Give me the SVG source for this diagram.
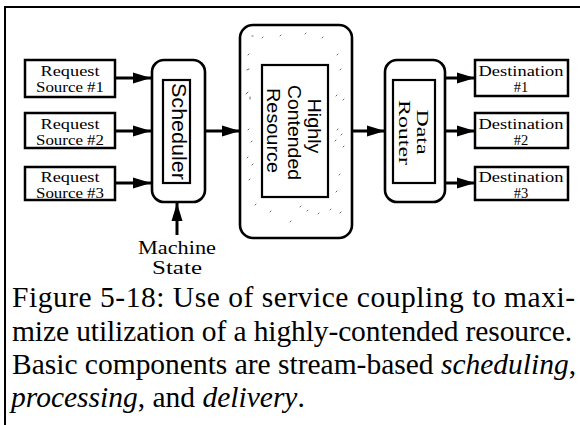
<svg xmlns="http://www.w3.org/2000/svg" width="580" height="425" viewBox="0 0 580 425">
<style>
.serif{font-family:"Liberation Serif","Times New Roman",serif;fill:#000}
.sans{font-family:"Liberation Sans",Arial,sans-serif;fill:#000}
.box{fill:#fff;stroke:#000;stroke-width:2.5}
.inner{fill:none;stroke:#000;stroke-width:2.2}
.round{fill:#fff;stroke:#000;stroke-width:2.6}
.lbl{font-size:14.5px;text-anchor:middle}
.cap{font-size:29.5px}
.conn{stroke:#000;stroke-width:3;fill:none;marker-end:url(#ah)}
.speck{stroke:#555;stroke-width:0.9;stroke-linecap:round}
</style>
<defs>
<marker id="ah" markerUnits="userSpaceOnUse" markerWidth="18" markerHeight="12" refX="18" refY="6" orient="auto">
<path d="M0,0.5 L18,6 L0,11.5 z" fill="#000"/>
</marker>
</defs>
<rect width="580" height="425" fill="#fff"/>
<g id="frame" stroke="#000" stroke-width="2">
<line x1="5" y1="7" x2="580" y2="7"/>
<line x1="5" y1="6" x2="5" y2="425"/>
</g>
<g id="src1"><rect class="box" x="25" y="60" width="90" height="37"/><text class="serif lbl" x="70" y="76" textLength="59" lengthAdjust="spacingAndGlyphs">Request</text><text class="serif lbl" x="70" y="92" textLength="68" lengthAdjust="spacingAndGlyphs">Source #1</text></g>
<g id="src2"><rect class="box" x="25" y="113" width="90" height="35"/><text class="serif lbl" x="70" y="129" textLength="59" lengthAdjust="spacingAndGlyphs">Request</text><text class="serif lbl" x="70" y="145" textLength="68" lengthAdjust="spacingAndGlyphs">Source #2</text></g>
<g id="src3"><rect class="box" x="25" y="167" width="90" height="33"/><text class="serif lbl" x="70" y="182" textLength="59" lengthAdjust="spacingAndGlyphs">Request</text><text class="serif lbl" x="70" y="198" textLength="68" lengthAdjust="spacingAndGlyphs">Source #3</text></g>
<g id="scheduler">
<rect class="round" x="152" y="60" width="53" height="142" rx="12"/>
<rect class="inner" x="163" y="80" width="27" height="103"/>
<text class="sans" font-size="21" text-anchor="middle" transform="translate(172,131.5) rotate(90)" textLength="97" lengthAdjust="spacingAndGlyphs">Scheduler</text>
</g>
<g id="resource">
<rect class="round" x="240" y="25" width="112" height="213" rx="13"/>
<g class="speck">
<line x1="252" y1="36" x2="253" y2="36"/><line x1="262" y1="38" x2="263" y2="37"/><line x1="280" y1="36" x2="281" y2="35"/><line x1="305" y1="34" x2="306" y2="33"/><line x1="322" y1="38" x2="323" y2="37"/>
<line x1="248" y1="55" x2="249" y2="54"/><line x1="247" y1="70" x2="249" y2="69"/><line x1="246" y1="94" x2="248" y2="92"/><line x1="250" y1="97" x2="250" y2="99"/>
<line x1="337" y1="55" x2="338" y2="54"/><line x1="340" y1="70" x2="341" y2="69"/><line x1="336" y1="96" x2="337" y2="95"/><line x1="343" y1="100" x2="344" y2="99"/>
<line x1="337" y1="130" x2="338" y2="129"/><line x1="341" y1="135" x2="342" y2="134"/><line x1="335" y1="141" x2="336" y2="140"/><line x1="343" y1="147" x2="344" y2="146"/>
<line x1="248" y1="130" x2="249" y2="129"/><line x1="251" y1="142" x2="252" y2="141"/><line x1="247" y1="158" x2="248" y2="157"/><line x1="252" y1="165" x2="253" y2="164"/><line x1="249" y1="180" x2="250" y2="179"/>
<line x1="339" y1="175" x2="340" y2="174"/><line x1="336" y1="192" x2="337" y2="191"/>
<line x1="255" y1="205" x2="256" y2="204"/><line x1="270" y1="212" x2="271" y2="211"/><line x1="300" y1="207" x2="301" y2="206"/><line x1="307" y1="211" x2="308" y2="210"/><line x1="318" y1="214" x2="319" y2="213"/><line x1="330" y1="210" x2="331" y2="209"/><line x1="340" y1="213" x2="341" y2="212"/><line x1="290" y1="222" x2="291" y2="221"/>
</g>
<rect class="inner" x="262" y="65" width="66" height="132"/>
<text class="sans" font-size="18" text-anchor="middle" transform="translate(308,126) rotate(90)" textLength="55" lengthAdjust="spacingAndGlyphs">Highly</text>
<text class="sans" font-size="18" text-anchor="middle" transform="translate(287.5,132.5) rotate(90)" textLength="95" lengthAdjust="spacingAndGlyphs">Contended</text>
<text class="sans" font-size="18" text-anchor="middle" transform="translate(267,130.5) rotate(90)" textLength="85" lengthAdjust="spacingAndGlyphs">Resource</text>
</g>
<g id="router">
<rect class="round" x="385" y="60" width="60" height="142" rx="12"/>
<rect class="inner" x="393" y="80" width="42" height="103"/>
<text class="serif" font-size="16" text-anchor="middle" transform="translate(417,132) rotate(90)" textLength="45" lengthAdjust="spacingAndGlyphs">Data</text>
<text class="serif" font-size="16" text-anchor="middle" transform="translate(399,132.5) rotate(90)" textLength="65" lengthAdjust="spacingAndGlyphs">Router</text>
</g>
<g id="dest1"><rect class="box" x="475" y="60" width="93" height="36"/><text class="serif lbl" x="521" y="76" textLength="85" lengthAdjust="spacingAndGlyphs">Destination</text><text class="serif lbl" x="521" y="92">#1</text></g>
<g id="dest2"><rect class="box" x="475" y="113" width="93" height="35"/><text class="serif lbl" x="521" y="129" textLength="85" lengthAdjust="spacingAndGlyphs">Destination</text><text class="serif lbl" x="521" y="145">#2</text></g>
<g id="dest3"><rect class="box" x="475" y="167" width="93" height="33"/><text class="serif lbl" x="521" y="182" textLength="85" lengthAdjust="spacingAndGlyphs">Destination</text><text class="serif lbl" x="521" y="198">#3</text></g>
<g id="machine-state">
<text class="serif" font-size="18" text-anchor="middle" x="177" y="254" textLength="78" lengthAdjust="spacingAndGlyphs">Machine</text>
<text class="serif" font-size="18" text-anchor="middle" x="177" y="274" textLength="50" lengthAdjust="spacingAndGlyphs">State</text>
</g>
<g id="connectors">
<line class="conn" x1="115" y1="78" x2="151" y2="78"/>
<line class="conn" x1="115" y1="131" x2="151" y2="131"/>
<line class="conn" x1="115" y1="183" x2="151" y2="183"/>
<line class="conn" x1="205" y1="131" x2="240" y2="131"/>
<line class="conn" x1="352" y1="131" x2="385" y2="131"/>
<line class="conn" x1="445" y1="78" x2="475" y2="78"/>
<line class="conn" x1="445" y1="131" x2="475" y2="131"/>
<line class="conn" x1="445" y1="183" x2="475" y2="183"/>
<line class="conn" x1="177" y1="235" x2="177" y2="203"/>
</g>
<g id="caption">
<text class="serif cap" x="12" y="307" textLength="563" lengthAdjust="spacing">Figure 5-18: Use of service coupling to maxi-</text>
<text class="serif cap" x="12" y="340.5" textLength="560" lengthAdjust="spacing">mize utilization of a highly-contended resource.</text>
<text class="serif cap" x="12" y="374" textLength="564" lengthAdjust="spacing">Basic components are stream-based <tspan font-style="italic">scheduling</tspan>,</text>
<text class="serif cap" x="11" y="407"><tspan font-style="italic">processing</tspan>, and <tspan font-style="italic">delivery</tspan>.</text>
</g>
</svg>
